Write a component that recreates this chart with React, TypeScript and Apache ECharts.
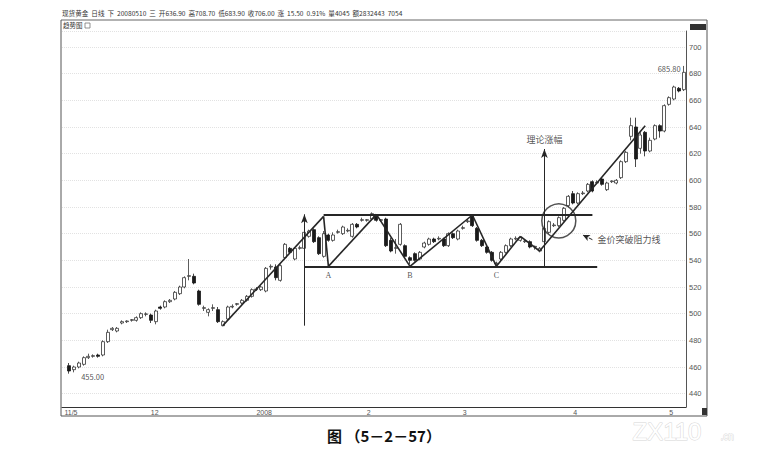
import React, { useEffect, useRef } from 'react';
import * as echarts from 'echarts';

// x 轴：月份标签与每月的 K 线格数（第一格留空）
const monthLabels = ['11/5', '12', '2008', '2', '3', '4', '5'];
const monthDays = [18, 22, 23, 20, 23, 20, 4];

// 日 K 线：[开, 收, 低, 高]
const candles: number[][] = [
  [461, 457, 455, 463], [458, 460, 456, 461], [460, 463, 459, 464], [462, 467, 461, 468],
  [467, 468, 466, 470], [468, 468.5, 467, 469.5], [469, 468, 467, 470], [469, 479, 468, 480],
  [479, 486, 478, 488], [488, 489, 487, 490], [487, 489, 486, 490], [493, 494, 492, 495],
  [494, 494.5, 493, 495], [495, 495.5, 494, 496], [495, 497, 494, 498], [497, 500, 496, 501],
  [499.5, 499.8, 498, 501], [499, 495, 493, 500], [494, 502, 492, 503], [505, 504, 503, 506],
  [505, 509, 504, 510], [509, 510, 508, 511], [511, 516, 510, 517], [515, 520, 514, 521],
  [520, 527, 519, 528], [528, 528.5, 525, 541], [528, 523, 522, 530], [517, 507, 506, 518],
  [504, 504.5, 502, 506], [501, 503, 498, 504], [504, 504.5, 502, 507], [503, 494, 493, 505],
  [491, 494, 490.5, 495], [496, 505, 495, 506], [505, 505.5, 504, 507], [507, 507.5, 506, 508],
  [508, 510, 507, 511], [510, 513, 509, 514], [513, 518, 512, 519], [518, 518.5, 517, 520],
  [518, 520, 517, 521], [517, 534, 516, 535], [535, 535.5, 533, 537], [535, 527, 525, 537],
  [525, 536, 524, 537], [542, 552, 541, 553], [549, 546, 545, 550], [541, 549, 540, 550],
  [549, 549.5, 548, 551], [549, 561, 548, 562], [558, 562, 557, 563], [563, 554, 553, 564],
  [557, 545, 544, 558], [543, 560, 542, 562], [559, 555, 554, 560], [555, 559, 554, 561],
  [561, 561.5, 560, 563], [560, 565, 559, 566], [562, 562.5, 561, 564], [558, 567, 557, 568],
  [567, 565, 564, 568], [570, 570.5, 569, 572], [570, 570.5, 569, 571], [571, 575, 570, 576],
  [573, 570, 569, 574], [570, 570.5, 569, 571], [571, 551, 550, 572], [555, 547, 546, 557],
  [549, 549.5, 545, 556], [552, 567, 551, 568], [551, 543, 542, 552], [542, 540, 537, 543],
  [545, 540, 539, 546], [541, 546, 540, 547], [550, 553, 549, 554], [552, 556, 551, 557],
  [556, 554, 553, 557], [556, 556.5, 555, 558], [556, 551, 550, 557], [551, 560, 550, 561],
  [560, 557, 556, 561], [556, 562, 555, 563], [564, 564.5, 563, 566], [569, 569.5, 568, 571],
  [573, 566, 565, 574], [564, 555, 554, 565], [555, 551, 550, 556], [550, 546, 545, 551],
  [546, 540, 539, 547], [537.5, 538, 536.5, 539], [541, 546, 540, 547], [546, 551, 545, 552],
  [551, 556, 550, 557], [556, 556.5, 555, 558], [555, 557, 554, 558], [554, 554.5, 553, 556],
  [554, 550, 549, 555], [550, 550.5, 548, 551], [547, 549, 546, 550], [554, 564, 553, 565],
  [561, 569, 560, 570], [566, 566.5, 565, 568], [566, 572, 565, 573], [570, 579, 569, 580],
  [581, 588, 580, 589], [590, 583, 582, 592], [583, 590, 582, 591], [590, 590.5, 589, 592],
  [592, 597, 591, 598], [599, 592, 591, 600], [598, 598.5, 597, 600], [601, 597, 596, 602],
  [593, 598, 592, 599], [599, 599.5, 598, 600], [598, 600, 597, 601], [602, 614, 601, 615],
  [614, 621, 613, 622], [633, 641, 630, 647], [640, 616, 610, 647], [624, 634, 620, 636],
  [636, 622, 618, 637], [622, 630, 621, 632], [631, 641, 630, 642], [641, 637, 632, 642],
  [637, 656, 636, 657], [657, 662, 656, 663], [661, 670, 660, 671], [669, 667, 666, 670],
  [668, 681, 667, 685.8],
];

// 形态画线：[格序号, 价格]
const zigzag = [[33, 491], [54, 573], [55, 535.5], [65, 574.5], [72, 535.5], [85, 574], [90, 535.5], [95, 558], [99, 547], [121, 641]];
const resistance = [[54, 574], [110, 574]];
const support = [[50, 535.5], [111, 535.5]];
const targetArrows = [
  [[50, 491], [50, 574.5]],
  [[100, 535.5], [100, 623.5]],
];
const pointer = [[110, 555.5], [108, 559]];
const breakout = [103, 569.6];

const notes = [
  { at: [55, 535.5], text: 'A', pos: 'bottom' },
  { at: [72, 535.5], text: 'B', pos: 'bottom' },
  { at: [90, 535.5], text: 'C', pos: 'bottom' },
  { at: [100, 623.5], text: '理论涨幅', pos: 'top' },
  { at: [110, 555.5], text: '金价突破阻力线', pos: 'right' },
  { at: [129, 685.8], text: '685.80', pos: 'left' },
  { at: [1, 455], text: '455.00', pos: 'right' },
];

const header = '现货黄金  日线  下  20080510  三  开636.90  高708.70  低683.90  收706.00  涨  15.50  0.91%  量4045  额2832443  7054';

const CJK = "'Noto Sans CJK SC', sans-serif";
const INK = '#262626';

const App: React.FC = () => {
  const chartRef = useRef<HTMLDivElement>(null);

  useEffect(() => {
    if (!chartRef.current) return;
    const chart = echarts.init(chartRef.current, undefined, { renderer: 'svg' });

    // 类目：每月若干格，月初显示标签
    const categories: string[] = [];
    const monthStarts = new Set<number>();
    monthLabels.forEach((m, i) => {
      monthStarts.add(categories.length);
      for (let d = 0; d < monthDays[i]; d++) categories.push(`${m}|${d}`);
    });

    const kData: any[] = ['-', ...candles];

    const seg = (a: number[], b: number[]) => [{ coord: a }, { coord: b }];
    const lines: any[] = [];
    for (let i = 0; i < zigzag.length - 1; i++) lines.push(seg(zigzag[i], zigzag[i + 1]));
    lines.push([{ coord: resistance[0], lineStyle: { width: 2 } }, { coord: resistance[1] }]);
    lines.push([{ coord: support[0], lineStyle: { width: 2 } }, { coord: support[1] }]);
    targetArrows.forEach(([a, b]) => {
      lines.push([
        { coord: a, symbol: 'none', lineStyle: { width: 1 } },
        { coord: b, symbol: 'arrow', symbolSize: [5, 9] },
      ]);
    });
    lines.push([
      { coord: pointer[0], symbol: 'none', lineStyle: { width: 1, type: 'dashed' } },
      { coord: pointer[1], symbol: 'arrow', symbolSize: [5, 7] },
    ]);

    const noteData = notes.map((n) => ({
      value: n.at,
      label: {
        show: true,
        position: n.pos,
        formatter: n.text,
        distance: n.text === '455.00' ? 12 : n.pos === 'left' ? 3 : 5,
        offset: n.pos === 'left' || n.text === '455.00' ? [0, 3] : [0, 0],
        fontSize: n.text.length === 1 ? 8 : /\d/.test(n.text) ? 7.5 : 9,
        fontFamily: n.text.length === 1 ? "'Liberation Serif', serif" : CJK,
        color: INK,
      },
    }));

    chart.setOption({
      animation: false,
      backgroundColor: '#fff',
      grid: { left: 62, right: 82, top: 31, bottom: 54 },
      xAxis: {
        type: 'category',
        data: categories,
        boundaryGap: true,
        axisLine: { lineStyle: { color: '#333', width: 1 } },
        axisTick: { show: false },
        axisLabel: {
          interval: (idx: number) => monthStarts.has(idx),
          formatter: (v: string) => v.split('|')[0],
          align: 'left',
          fontSize: 7,
          color: '#555',
          margin: 2,
          fontFamily: "'Liberation Sans', sans-serif",
        },
        splitLine: { show: false },
      },
      yAxis: {
        type: 'value',
        position: 'right',
        min: 430,
        max: 712,
        interval: 10,
        axisLine: { show: true, lineStyle: { color: '#555', width: 1 } },
        axisTick: { show: false },
        axisLabel: {
          formatter: (v: number) => (v % 20 === 0 && v >= 440 && v <= 700 ? String(v) : ''),
          fontSize: 7.5,
          color: '#555',
          margin: 3,
          fontFamily: "'Liberation Sans', sans-serif",
        },
        splitLine: {
          show: true,
          lineStyle: { color: ['rgba(0,0,0,0)', '#e2e2e2'], type: 'dotted', width: 1 },
        },
      },
      series: [
        {
          name: '现货黄金',
          type: 'candlestick',
          data: kData,
          barWidth: 3.4,
          itemStyle: {
            color: '#ffffff',
            color0: '#1a1a1a',
            borderColor: '#333',
            borderColor0: '#1a1a1a',
            borderWidth: 0.8,
          },
          markLine: {
            silent: true,
            symbol: ['none', 'none'],
            label: { show: false },
            lineStyle: { color: INK, width: 1.6, type: 'solid' },
            data: lines,
          },
        },
        {
          name: '突破',
          type: 'scatter',
          silent: true,
          data: [breakout],
          symbol: 'circle',
          symbolSize: 34,
          itemStyle: { color: 'rgba(0,0,0,0)', borderColor: INK, borderWidth: 1.5 },
        },
        {
          name: '注释',
          type: 'scatter',
          silent: true,
          data: noteData,
          symbolSize: 0,
          itemStyle: { color: 'rgba(0,0,0,0)' },
        },
      ],
      graphic: [
        { type: 'text', left: 62, top: 10, style: { text: header, fontSize: 6.6, fill: '#333', fontFamily: CJK } },
        { type: 'line', shape: { x1: 61, y1: 20, x2: 707, y2: 20 }, style: { stroke: '#666', lineWidth: 1 } },
        { type: 'text', left: 63, top: 22, style: { text: '趋势图', fontSize: 6.5, fill: '#333', fontFamily: CJK } },
        { type: 'rect', shape: { x: 85, y: 23, width: 5, height: 5 }, style: { fill: '#fff', stroke: '#777', lineWidth: 0.8 } },
        { type: 'line', shape: { x1: 61, y1: 20, x2: 61, y2: 416 }, style: { stroke: '#555', lineWidth: 1 } },
        { type: 'line', shape: { x1: 707, y1: 20, x2: 707, y2: 416 }, style: { stroke: '#555', lineWidth: 1 } },
        { type: 'line', shape: { x1: 61, y1: 416, x2: 707, y2: 416 }, style: { stroke: '#555', lineWidth: 1 } },
        { type: 'rect', shape: { x: 690, y: 24, width: 16, height: 6 }, style: { fill: '#333' } },
        { type: 'rect', shape: { x: 702, y: 408, width: 5, height: 7 }, style: { fill: '#333' } },
        {
          type: 'text', left: 'center', top: 428,
          style: { text: '图 （5－2－57）', fontSize: 15, fontWeight: 'bold', fill: '#111', fontFamily: CJK },
        },
        {
          type: 'text', left: 632, top: 419,
          style: { text: 'ZX110', fontSize: 24, fill: '#fff', stroke: '#d6d6d6', lineWidth: 1, fontFamily: "'Liberation Sans', sans-serif" },
        },
        {
          type: 'text', left: 720, top: 431,
          style: { text: '.cn', fontSize: 10, fill: '#fff', stroke: '#d6d6d6', lineWidth: 0.8, fontFamily: "'Liberation Sans', sans-serif" },
        },
      ],
    });

    return () => {
      chart.dispose();
    };
  }, []);

  return (
    <div
      ref={chartRef}
      style={{ position: 'absolute', left: 0, top: 0, width: 768, height: 461, background: '#fff' }}
    />
  );
};

export default App;
